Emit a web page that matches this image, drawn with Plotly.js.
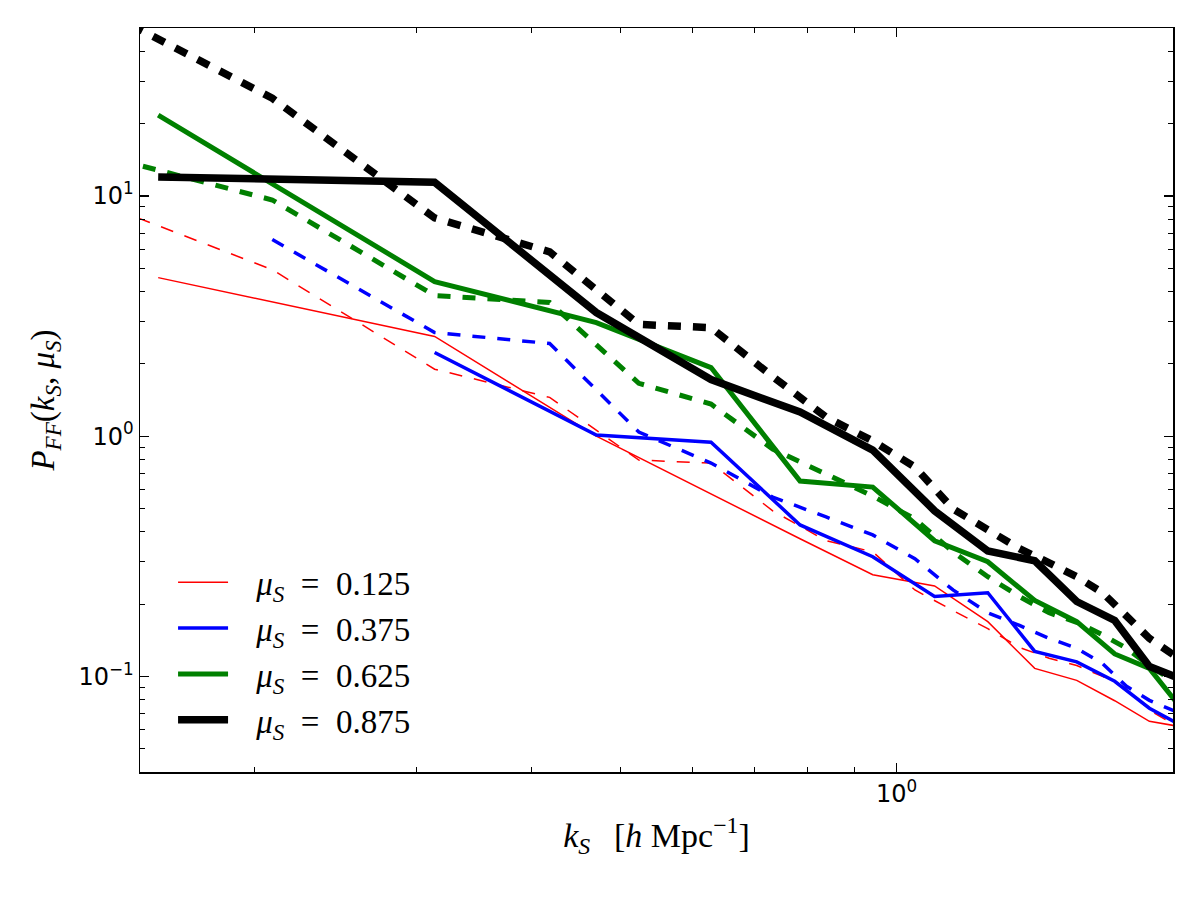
<!DOCTYPE html>
<html><head><meta charset="utf-8">
<script src="https://cdn.plot.ly/plotly-3.0.1.min.js"></script>
<style>html,body{margin:0;padding:0;background:#fff}#chart{width:1200px;height:900px}</style>
</head><body><div id="chart"></div>
<script>
// k bins for solid curves and dashed curves
const kSolid = [0.157, 0.314, 0.471, 0.628, 0.785, 0.942, 1.100, 1.257, 1.414, 1.571, 1.728, 1.885, 2.042];
const kDashed = [0.105, 0.209, 0.314, 0.419, 0.524, 0.628, 0.733, 0.838, 0.942, 1.047, 1.152, 1.257, 1.361, 1.466, 1.571, 1.676, 1.780, 1.885, 1.990, 2.094];

const muLabels = ['0.125', '0.375', '0.625', '0.875'];

// solid curves
const solid_mu0125 = [4.57, 2.60, 1.00, 0.574, 0.374, 0.265, 0.238, 0.169, 0.108, 0.0963, 0.0792, 0.0650, 0.0617];
const solid_mu0375 = [null, 2.23, 1.01, 0.944, 0.427, 0.315, 0.215, 0.223, 0.127, 0.115, 0.0954, 0.0737, 0.0625];
const solid_mu0625 = [21.7, 4.40, 2.97, 1.93, 0.650, 0.614, 0.367, 0.300, 0.207, 0.169, 0.124, 0.108, 0.0737];
const solid_mu0875 = [12.0, 11.4, 3.27, 1.72, 1.26, 0.875, 0.489, 0.333, 0.303, 0.205, 0.171, 0.110, 0.0974];

// dashed curves
const dashed_mu0125 = [13.6, 4.93, 1.90, 1.45, 0.795, 0.773, 0.489, 0.367, 0.330, 0.229, 0.188, 0.158, 0.132, 0.119, 0.111, 0.100, 0.0892, 0.0724, 0.0640, 0.0607];
const dashed_mu0375 = [null, 6.58, 2.70, 2.43, 1.04, 0.773, 0.558, 0.461, 0.388, 0.309, 0.229, 0.184, 0.163, 0.144, 0.131, 0.113, 0.0910, 0.0795, 0.0724, 0.0670];
const dashed_mu0625 = [19.1, 9.62, 3.85, 3.60, 1.66, 1.36, 0.884, 0.695, 0.563, 0.452, 0.330, 0.260, 0.215, 0.184, 0.168, 0.149, 0.131, 0.111, 0.097, 0.088];
const dashed_mu0875 = [100, 25.5, 8.1, 5.85, 2.92, 2.83, 1.77, 1.20, 0.955, 0.744, 0.498, 0.404, 0.340, 0.297, 0.260, 0.223, 0.177, 0.144, 0.125, 0.110];

const xMajorTicks = [1];
const xMajorText = ['10<sup>0</sup>'];
const yMajorTicks = [0.1, 1, 10];
const yMajorText = ['10<sup>\u22121</sup>', '10<sup>0</sup>', '10<sup>1</sup>'];

const solidSeries = [solid_mu0125, solid_mu0375, solid_mu0625, solid_mu0875];
const dashedSeries = [dashed_mu0125, dashed_mu0375, dashed_mu0625, dashed_mu0875];

// styles
const colors = ['#ff0000', '#0000ff', '#008000', '#000000'];
const widths = [1.5, 3.5, 5, 7.5];
const dashPattern = '13px,12px';

const traces = [];
for (let i = 0; i < 4; i++) {
  traces.push({
    x: kDashed, y: dashedSeries[i], type: 'scatter', mode: 'lines',
    line: {color: colors[i], width: widths[i], dash: dashPattern},
    showlegend: false, connectgaps: false, hoverinfo: 'skip',
    legendgroup: 'g' + i
  });
}
for (let i = 0; i < 4; i++) {
  traces.push({
    x: kSolid, y: solidSeries[i], type: 'scatter', mode: 'lines',
    line: {color: colors[i], width: widths[i]},
    name: '\u2002\u2009<i>\u03bc</i><sub><i>S</i></sub>\u2002=\u2002' + muLabels[i],
    showlegend: true, legendgroup: 'g' + i, connectgaps: false
  });
}

// minor tick positions (axis decoration)
const minorX = [];
for (const d of [0.1, 1]) for (let m = 2; m <= 9; m++) minorX.push(m * d);
const minorY = [];
for (const d of [0.01, 0.1, 1, 10]) for (let m = 2; m <= 9; m++) minorY.push(m * d);

const tickFont = {family: 'DejaVu Sans', size: 24, color: '#000'};
const serif = 'Liberation Serif';

const layout = {
  width: 1200, height: 900,
  paper_bgcolor: '#fff', plot_bgcolor: '#fff',
  margin: {l: 140, r: 27, t: 28, b: 128},
  showlegend: true,
  legend: {
    x: 0.032, y: 0.032, xanchor: 'left', yanchor: 'bottom',
    bgcolor: 'rgba(0,0,0,0)', borderwidth: 0,
    font: {family: serif, size: 33, color: '#000'},
    tracegroupgap: 15, itemwidth: 50, traceorder: 'normal'
  },
  xaxis: {
    type: 'log', range: [Math.log10(0.15), Math.log10(2.0)],
    showgrid: false, zeroline: false,
    showline: true, linecolor: '#000', linewidth: 1.5, mirror: 'allticks',
    ticks: 'inside', ticklen: 9, tickwidth: 1.2, tickcolor: '#000',
    tickmode: 'array', tickvals: xMajorTicks, ticktext: xMajorText,
    tickfont: tickFont,
    minor: {tickmode: 'array', tickvals: minorX, ticks: 'inside', ticklen: 5, tickwidth: 1, tickcolor: '#000', showgrid: false},
    title: {text: '<i>k</i><sub><i>S</i></sub>\u2002\u2009[<i>h</i> Mpc<sup>\u22121</sup>]', font: {family: serif, size: 34, color: '#000'}, standoff: 16}
  },
  yaxis: {
    type: 'log', range: [Math.log10(0.04), Math.log10(50)],
    showgrid: false, zeroline: false,
    showline: true, linecolor: '#000', linewidth: 1.5, mirror: 'allticks',
    ticks: 'inside', ticklen: 9, tickwidth: 1.2, tickcolor: '#000',
    tickmode: 'array', tickvals: yMajorTicks, ticktext: yMajorText,
    tickfont: tickFont,
    minor: {tickmode: 'array', tickvals: minorY, ticks: 'inside', ticklen: 5, tickwidth: 1, tickcolor: '#000', showgrid: false},
    title: {text: '<i>P</i><sub><i>FF</i></sub>(<i>k</i><sub><i>S</i></sub>, <i>\u03bc</i><sub><i>S</i></sub>)', font: {family: serif, size: 33, color: '#000'}, standoff: 14}
  }
};

Plotly.newPlot('chart', traces, layout, {displayModeBar: false, staticPlot: true});
</script>
</body></html>
